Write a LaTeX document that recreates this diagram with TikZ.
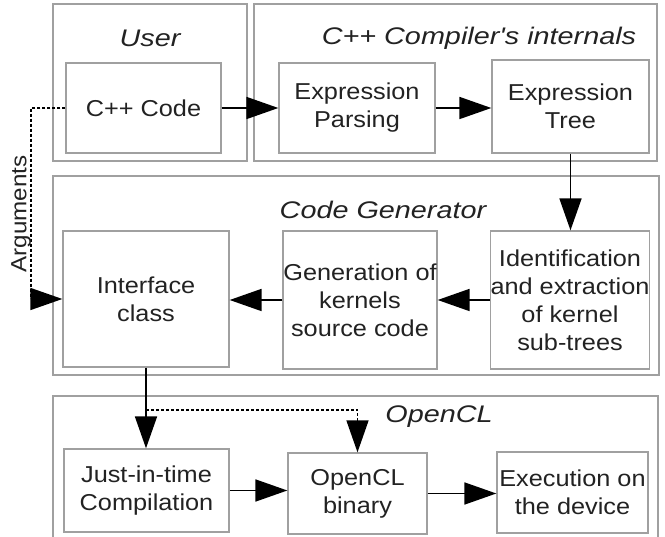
\documentclass[tikz,border=0pt]{standalone}
\usepackage{fontspec}
\setmainfont{Liberation Sans}[FakeStretch=1.1]
\newfontfamily\titlefont{Liberation Sans}[FakeStretch=1.2]
\usetikzlibrary{arrows.meta}
\definecolor{boxgray}{RGB}{160,160,160}
\definecolor{txt}{RGB}{34,34,34}
\begin{document}
\begin{tikzpicture}[x=1pt,y=-1pt,
  container/.style={draw=boxgray, line width=1.3pt, inner sep=0pt},
  box/.style={draw=boxgray, line width=1.3pt, align=center, text=txt, inner sep=0pt,
    font=\fontsize{23}{28}\selectfont},
  title/.style={text=txt, inner sep=0pt, font=\titlefont\itshape\fontsize{24}{28}\selectfont},
  arr/.style={line width=1.8pt, -{Triangle[length=32pt,width=22pt]}},
  dotline/.style={line width=1.5pt, dash pattern=on 3pt off 2pt, -{Triangle[length=32pt,width=22pt]}}]
\useasboundingbox (0,0) rectangle (665,537);
\clip (0,0) rectangle (665,537);
% containers
\node[container, minimum width=194pt, minimum height=157pt] (user) at (150,82.5) {};
\node[container, minimum width=403pt, minimum height=157pt] (comp) at (455.5,82.5) {};
\node[container, minimum width=606pt, minimum height=199pt] (cgen) at (356,275.5) {};
\node[container, minimum width=605pt, minimum height=170pt] (ocl) at (355.5,481) {};
% titles
\node[title] (tuser) at (150,38) {User};
\node[title] (tcomp) at (479,38) {C++ Compiler's internals};
\node[title] (tcgen) at (383,210) {Code Generator};
\node[title] (tocl) at (439,417) {OpenCL};
% boxes
\node[box, minimum width=155pt, minimum height=90pt] (cpp) at (143.5,108) {C++ Code};
\node[box, minimum width=156pt, minimum height=90pt] (parse) at (357,108) {Expression\\Parsing};
\node[box, minimum width=157pt, minimum height=93pt] (tree) at (570.5,106.5) {Expression\\Tree};
\node[box, minimum width=166pt, minimum height=136pt] (iface) at (146,299) {Interface\\class};
\node[box, minimum width=154pt, minimum height=138pt] (gen) at (360,300) {Generation of\\kernels\\source code};
\node[box, minimum width=156pt, minimum height=138pt] (ident) at (570,300) {Identification\\and extraction\\of kernel\\sub-trees};
\node[box, minimum width=165pt, minimum height=83pt] (jit) at (146.5,490.5) {Just-in-time\\Compilation};
\node[box, minimum width=139pt, minimum height=81pt] (bin) at (357.5,493.5) {OpenCL\\binary};
\node[box, minimum width=151pt, minimum height=81pt] (exec) at (572.5,492.5) {Execution on\\the device};
% connectors
\draw[arr] (cpp.east) -- (parse.west);
\draw[arr] (parse.east) -- (parse.east -| tree.west);
\draw[arr] (tree.south) -- (tree.south |- ident.north);
\draw[arr] (ident.west) -- (ident.west -| gen.east);
\draw[arr] (gen.west) -- (gen.west -| iface.east);
\draw[arr] (iface.south) -- (iface.south |- jit.north);
\coordinate (split) at (146,410);
\draw[dotline] (split) -- (split -| bin.north) -- (bin.north);
\draw[arr] (jit.east) -- (jit.east -| bin.west);
\draw[arr] (bin.east) -- (bin.east -| exec.west);
\coordinate (ac) at (31,200);
\draw[dotline] (cpp.west) -- (cpp.west -| ac) -- (ac |- iface.west) -- (iface.west);
\node[text=txt, inner sep=0pt, rotate=90, font=\fontsize{22}{26}\selectfont] (argl) at (21,214) {Arguments};
\end{tikzpicture}
\end{document}
